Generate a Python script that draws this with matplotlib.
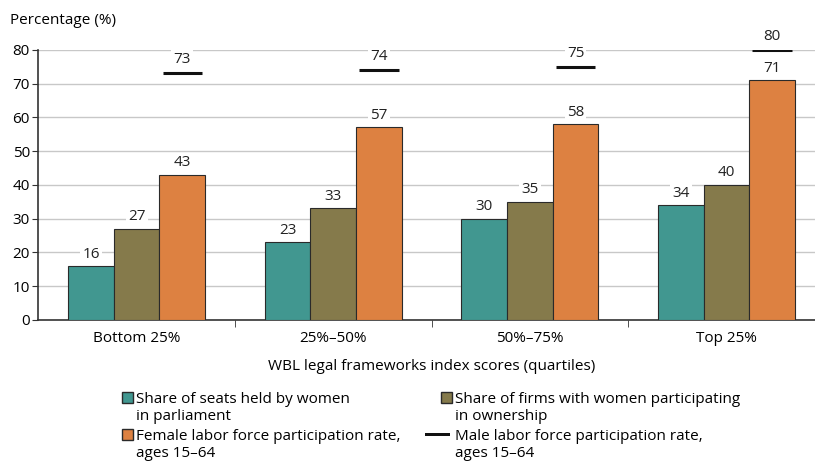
import numpy as np
import matplotlib.pyplot as plt
from matplotlib.patches import Patch, Rectangle
from matplotlib.legend_handler import HandlerPatch

plt.rcParams['font.family'] = ['Open Sans', 'DejaVu Sans']

quartiles = ['Bottom 25%', '25%\u201350%', '50%\u201375%', 'Top 25%']
seats = [16, 23, 30, 34]
firms = [27, 33, 35, 40]
female_lfp = [43, 57, 58, 71]
male_lfp = [73, 74, 75, 80]

c_teal = '#419790'
c_olive = '#857a4b'
c_orange = '#dd8141'
edge = '#2a2a2a'
fs = 11

fig = plt.figure(figsize=(8.15, 4.61), dpi=100)
ax = fig.add_axes([0.047, 0.306, 0.965, 0.586])

x = np.arange(len(quartiles))
w = 0.232
series = [(seats, c_teal), (firms, c_olive), (female_lfp, c_orange)]
for i, (vals, col) in enumerate(series):
    pos = x + (i - 1) * w
    ax.bar(pos, vals, w, color=col, edgecolor=edge, linewidth=0.8, zorder=3)
    for px, v in zip(pos, vals):
        ax.text(px, v + 1.3, str(v), ha='center', va='bottom', fontsize=fs,
                color='#222222', zorder=4,
                bbox=dict(facecolor='white', edgecolor='none', pad=1.5))

for px, v in zip(x + w, male_lfp):
    ax.plot([px - 0.1, px + 0.1], [v, v], color='#111111', lw=2.2,
            solid_capstyle='butt', zorder=4)
    ax.text(px, v + 1.8, str(v), ha='center', va='bottom', fontsize=fs,
            color='#222222', zorder=4,
            bbox=dict(facecolor='white', edgecolor='none', pad=1.5))

ax.set_ylim(0, 80)
ax.set_xlim(-0.5, 3.5)
ax.set_yticks(range(0, 81, 10))
ax.yaxis.grid(True, color='#c8c8c8', lw=1, zorder=0)
ax.set_axisbelow(True)
for s in ['top', 'right']:
    ax.spines[s].set_visible(False)
ax.spines['left'].set_color('#333333')
ax.spines['bottom'].set_color('#333333')
ax.spines['left'].set_linewidth(1.2)
ax.spines['bottom'].set_linewidth(1.2)

ax.set_xticks(x)
ax.set_xticklabels(quartiles, fontsize=fs)
ax.set_xticks(np.arange(0.5, 3.5, 1), minor=True)
ax.tick_params(axis='x', which='major', length=0, pad=8)
ax.tick_params(axis='x', which='minor', length=5, color='#333333')
ax.tick_params(axis='y', labelsize=fs, length=4, color='#333333', pad=2)

ax.set_xlabel('WBL legal frameworks index scores (quartiles)', fontsize=fs,
              labelpad=9)
fig.text(0.012, 0.955, 'Percentage (%)', fontsize=fs, ha='left', va='center')


# legend handles sit on the first line of each two-line label
def square_top(legend, orig_handle, xdescent, ydescent, width, height, fontsize):
    s = 0.72 * fontsize
    return Rectangle((width - xdescent - s, height - ydescent - s + 0.3 * fontsize), s, s)


def line_top(legend, orig_handle, xdescent, ydescent, width, height, fontsize):
    t = 0.14 * fontsize
    return Rectangle((-xdescent, height - ydescent - 0.06 * fontsize - t / 2),
                     width - 0.15 * fontsize, t)


handles = [
    Patch(facecolor=c_teal, edgecolor=edge, label='Share of seats held by women\nin parliament'),
    Patch(facecolor=c_orange, edgecolor=edge, label='Female labor force participation rate,\nages 15\u201364'),
    Patch(facecolor=c_olive, edgecolor=edge, label='Share of firms with women participating\nin ownership'),
    Patch(facecolor='#111111', edgecolor='none', label='Male labor force participation rate,\nages 15\u201364'),
]
hmap = {handles[0]: HandlerPatch(patch_func=square_top),
        handles[1]: HandlerPatch(patch_func=square_top),
        handles[2]: HandlerPatch(patch_func=square_top),
        handles[3]: HandlerPatch(patch_func=line_top)}
fig.legend(handles=handles, handler_map=hmap, ncol=2, loc='upper left',
           bbox_to_anchor=(0.129, 0.15),
           frameon=False, fontsize=fs, handlelength=1.8, handleheight=2.0,
           handletextpad=0.2, columnspacing=1.6, labelspacing=0.3,
           borderaxespad=0, borderpad=0)

fig.savefig('out.png', dpi=100, facecolor='white')
